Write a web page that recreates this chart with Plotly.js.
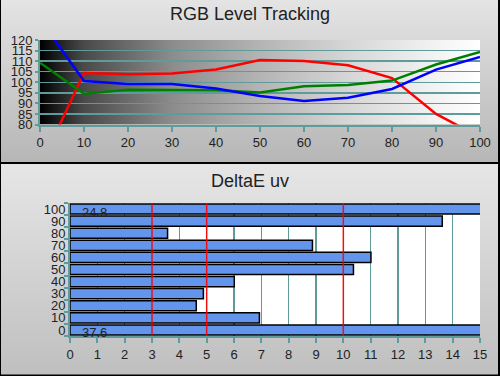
<!DOCTYPE html>
<html>
<head>
<meta charset="utf-8">
<script src="https://cdn.plot.ly/plotly-3.0.1.min.js"></script>
<style>
html,body{margin:0;padding:0;}
#wrap{position:relative;width:500px;height:376px;overflow:hidden;
background:linear-gradient(to bottom,#e4e4e4 0px,#b6b6b6 162px,#000 162px,#000 164px,#e6e6e6 164px,#bfbfbf 376px);}
#chart{width:500px;height:376px;}
</style>
</head>
<body>
<div id="wrap"><div id="chart"></div></div>
<script>
// RGB level tracking data
const levels = [0,10,20,30,40,50,60,70,80,90,100];
const redVals   = [60,104.4,103.8,104.1,106,110.5,110,108,102,85,74];
const greenVals = [109.2,94.6,96.5,96.3,96.2,95.2,98.1,98.7,100.8,108.4,114.4];
const blueVals  = [129.6,100.6,99.2,99.2,97,93.5,91.1,92.7,96.8,106,112];

// DeltaE uv data
const deCats = ['0','10','20','30','40','50','60','70','80','90','100'];
const deVals = [37.6,6.93,4.62,4.88,6.01,10.37,11.01,8.87,3.57,13.62,24.8];
const deThresholds = [3,5,10];
const deMax = 15;

const teal = '#5f9b9b';
const fontFam = 'Liberation Sans, Arial, sans-serif';

const gradSvg = '<svg xmlns="http://www.w3.org/2000/svg" width="100" height="10" preserveAspectRatio="none">' +
 '<defs><linearGradient id="g" x1="0" y1="0" x2="1" y2="0">' +
 '<stop offset="0" stop-color="#000"/><stop offset="0.1" stop-color="#4a4a4a"/>' +
 '<stop offset="0.3" stop-color="#8c8c8c"/><stop offset="0.5" stop-color="#b4b4b4"/>' +
 '<stop offset="0.7" stop-color="#d6d6d6"/><stop offset="0.9" stop-color="#f3f3f3"/>' +
 '<stop offset="1" stop-color="#fff"/></linearGradient></defs>' +
 '<rect width="100" height="10" fill="url(#g)"/></svg>';
const gradSrc = 'data:image/svg+xml;charset=utf-8,' + encodeURIComponent(gradSvg);
const whiteSrc = 'data:image/svg+xml;charset=utf-8,' + encodeURIComponent('<svg xmlns="http://www.w3.org/2000/svg" width="10" height="10"><rect width="10" height="10" fill="#fff"/></svg>');

const traces = [
  {x: levels, y: redVals, type:'scatter', mode:'lines', line:{color:'#ff0000', width:2.5}, xaxis:'x', yaxis:'y'},
  {x: levels, y: greenVals, type:'scatter', mode:'lines', line:{color:'#008000', width:2.5}, xaxis:'x', yaxis:'y'},
  {x: levels, y: blueVals, type:'scatter', mode:'lines', line:{color:'#0000ff', width:2.5}, xaxis:'x', yaxis:'y'},
  {y: deCats, x: deVals, type:'bar', orientation:'h', xaxis:'x2', yaxis:'y2',
   marker:{color:'#6495ed', line:{color:'#000', width:1.5}}, hoverinfo:'none'}
];

const annotations = [
  {text:'RGB Level Tracking', xref:'paper', yref:'paper', x:0.5, y:1-14/376, xanchor:'center', yanchor:'middle', showarrow:false, font:{family:fontFam, size:18, color:'#222'}},
  {text:'DeltaE uv', xref:'paper', yref:'paper', x:0.5, y:1-181/376, xanchor:'center', yanchor:'middle', showarrow:false, font:{family:fontFam, size:18, color:'#222'}}
];
deVals.forEach((v,i)=>{
  if (v > deMax) annotations.push({text:String(v), xref:'x2', yref:'y2', x:0.35, y:i, xanchor:'left', yanchor:'middle', yshift:-3, showarrow:false, font:{family:fontFam, size:13, color:'#222'}});
});

const shapes = [];
deThresholds.forEach(t=>{
  shapes.push({type:'line', xref:'x2', yref:'y2 domain', x0:t, x1:t, y0:0, y1:1, line:{color:'rgba(255,0,0,0.9)', width:1.5}, layer:'above'});
});
shapes.push({type:'line', xref:'paper', yref:'paper', x0:0, x1:0, y0:0, y1:1, line:{color:'#000', width:2}});
shapes.push({type:'line', xref:'paper', yref:'paper', x0:1, x1:1, y0:0, y1:1, line:{color:'#000', width:4}});
shapes.push({type:'line', xref:'paper', yref:'paper', x0:0, x1:1, y0:0, y1:0, line:{color:'#000', width:3}});

const layout = {
  width:500, height:376,
  margin:{l:0,r:0,t:0,b:0},
  paper_bgcolor:'rgba(0,0,0,0)', plot_bgcolor:'rgba(0,0,0,0)',
  showlegend:false,
  font:{family:fontFam, size:13, color:'#222'},
  xaxis:{domain:[40/500, 480/500], range:[0,100], tickvals:levels, ticks:'outside', ticklen:5, tickwidth:2, tickcolor:teal,
    showline:true, linecolor:teal, linewidth:2, showgrid:false, zeroline:false, fixedrange:true, anchor:'y'},
  yaxis:{domain:[1-124.5/376, 1-40/376], range:[80,120], dtick:5, ticks:'outside', ticklen:3, tickwidth:2, tickcolor:teal,
    showline:true, linecolor:teal, linewidth:2, showgrid:true, gridcolor:teal, gridwidth:1.5, zeroline:false, fixedrange:true, anchor:'x',
    ticklabelstandoff:0},
  xaxis2:{domain:[70/500, 480/500], range:[0,deMax], dtick:1, ticks:'outside', ticklen:5, tickwidth:2, tickcolor:teal,
    showline:true, linecolor:teal, linewidth:2, showgrid:true, gridcolor:teal, gridwidth:1.5, zeroline:false, fixedrange:true, anchor:'y2'},
  yaxis2:{domain:[1-336/376, 1-203/376], type:'category', range:[-0.5,10.5], dtick:1, ticks:'outside', ticklen:4, tickwidth:2, tickcolor:teal,
    tickson:'boundaries', showline:true, linecolor:teal, linewidth:2, showgrid:false, zeroline:false, fixedrange:true, anchor:'x2'},
  bargap:0.16,
  annotations: annotations,
  shapes: shapes,
  images:[{source:gradSrc, xref:'x', yref:'y', x:0, y:120, sizex:100, sizey:40, sizing:'stretch', layer:'below', xanchor:'left', yanchor:'top'},
          {source:whiteSrc, xref:'x2', yref:'y2 domain', x:0, y:1, sizex:deMax, sizey:1, sizing:'stretch', layer:'below', xanchor:'left', yanchor:'top'}]
};

Plotly.newPlot('chart', traces, layout, {displayModeBar:false, staticPlot:true});
</script>
</body>
</html>
